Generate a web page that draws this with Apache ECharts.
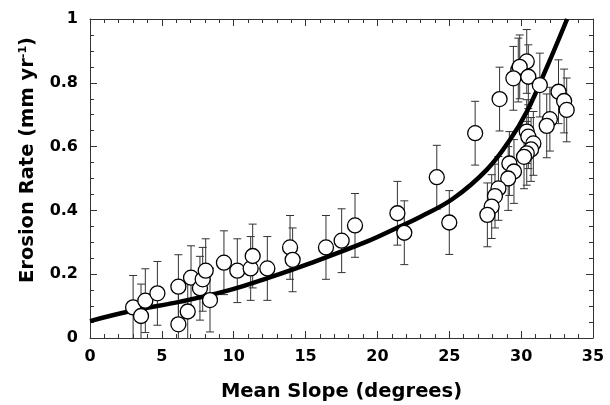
<!DOCTYPE html>
<html>
<head>
<meta charset="utf-8">
<script src="https://cdn.jsdelivr.net/npm/echarts@6/dist/echarts.min.js"></script>
<style>html,body{margin:0;padding:0;background:#fff}#c{width:610px;height:405px}</style>
</head>
<body>
<div id="c"></div>
<script>
// Mean slope (degrees) of each catchment
var slopes = [3.0, 3.55, 3.85, 4.69, 6.15, 6.15, 6.8, 7.03, 7.65, 7.84, 8.05, 8.35, 9.32, 10.25, 11.18, 11.32, 12.34,
  13.92, 14.1, 16.42, 17.51, 18.44, 21.39, 21.87, 24.13, 25.0, 26.8, 28.5, 30.39, 29.8, 29.9, 29.46, 30.5, 31.3,
  32.6, 32.99, 33.17, 32.0, 31.78, 30.39, 30.5, 30.85, 30.69, 30.39, 30.2, 29.18, 29.5, 29.1, 28.42, 28.18, 27.95, 27.65];
// Erosion rate (mm/yr)
var rates = [0.096, 0.069, 0.117, 0.14, 0.161, 0.043, 0.083, 0.189, 0.156, 0.184, 0.211, 0.119, 0.236, 0.211, 0.218, 0.257, 0.218,
  0.284, 0.245, 0.284, 0.305, 0.353, 0.391, 0.33, 0.504, 0.362, 0.642, 0.749, 0.867, 0.84, 0.85, 0.814, 0.819, 0.793,
  0.772, 0.743, 0.715, 0.686, 0.665, 0.647, 0.631, 0.61, 0.591, 0.579, 0.568, 0.547, 0.522, 0.5, 0.469, 0.445, 0.412, 0.386];
// Error (half-width of bar, mm/yr)
var errors = [0.1, 0.1, 0.1, 0.1, 0.1, 0.1, 0.1, 0.1, 0.1, 0.1, 0.1, 0.1, 0.1, 0.1, 0.1, 0.1, 0.1,
  0.1, 0.1, 0.1, 0.1, 0.1, 0.1, 0.1, 0.1, 0.1, 0.1, 0.1, 0.1, 0.1, 0.1, 0.1, 0.1, 0.1,
  0.1, 0.1, 0.1, 0.1, 0.1, 0.1, 0.1, 0.1, 0.1, 0.1, 0.1, 0.1, 0.1, 0.1, 0.1, 0.1, 0.1, 0.1];
// Fitted curve samples
var curveX = [0, 3, 6.3, 9.7, 12.5, 15.3, 19.25, 21.3, 23, 25.3, 27.6, 29.2, 30.4, 31.8, 33.2];
var curveY = [0.053, 0.086, 0.114, 0.15, 0.19, 0.234, 0.302, 0.344, 0.38, 0.438, 0.527, 0.62, 0.71, 0.85, 1.0];
var xTicks = [0, 5, 10, 15, 20, 25, 30, 35];
var yTicks = [0, 0.2, 0.4, 0.6, 0.8, 1];

var pts = slopes.map(function (s, i) { return [s, rates[i]]; });
var bars = slopes.map(function (s, i) { return [s, rates[i] - errors[i], rates[i] + errors[i]]; });
var curve = curveX.map(function (x, i) { return [x, curveY[i]]; });

var font = '"DejaVu Sans", Verdana, sans-serif';
var axisCol = '#333';
var xMin = xTicks[0], xMax = xTicks[xTicks.length - 1];
var yMin = yTicks[0], yMax = yTicks[yTicks.length - 1];

function axis(type, pos, min, max, interval, tickLen, showLine, label, extra) {
  var a = {
    type: 'value', position: pos, min: min, max: max, interval: interval, offset: 0,
    axisLine: { show: showLine, onZero: false, lineStyle: { color: axisCol, width: 1 } },
    axisTick: { show: true, inside: true, length: tickLen, lineStyle: { color: axisCol } },
    minorTick: { show: false },
    splitLine: { show: false },
    axisLabel: label || { show: false }
  };
  if (extra) for (var k in extra) a[k] = extra[k];
  return a;
}
var labelStyle = { show: true, color: '#000', fontFamily: font, fontWeight: 'bold', fontSize: 16 };

var chart = echarts.init(document.getElementById('c'));
chart.setOption({
  animation: false,
  backgroundColor: '#fff',
  grid: { left: 90, right: 17, top: 19, bottom: 67, containLabel: false, outerBoundsMode: 'none' },
  xAxis: [
    axis('x', 'bottom', xMin, xMax, 5, 7, true, Object.assign({}, labelStyle, { margin: 11 }), {
      name: 'Mean Slope (degrees)', nameLocation: 'middle', nameGap: 44,
      nameTextStyle: { color: '#000', fontFamily: font, fontWeight: 'bold', fontSize: 19.5 } }),
    axis('x', 'top', xMin, xMax, 5, 7, true, null),
    axis('x', 'bottom', xMin, xMax, 1, 4, false, null),
    axis('x', 'top', xMin, xMax, 1, 4, false, null)
  ],
  yAxis: [
    axis('y', 'left', yMin, yMax, 0.2, 7, true, Object.assign({}, labelStyle, { margin: 12,
      formatter: function (v) { return v === 0 || v === 1 ? String(v) : v.toFixed(1); } })),
    axis('y', 'right', yMin, yMax, 0.2, 7, true, null),
    axis('y', 'left', yMin, yMax, 0.05, 4, false, null),
    axis('y', 'right', yMin, yMax, 0.05, 4, false, null)
  ],
  graphic: [{
    type: 'text', rotation: Math.PI / 2,
    x: 28, y: 160,
    style: {
      text: '{n|Erosion Rate (mm yr}{s|-1}{n|)}',
      rich: {
        n: { fontFamily: font, fontWeight: 'bold', fontSize: 19.5, fill: '#000' },
        s: { fontFamily: font, fontWeight: 'bold', fontSize: 11, fill: '#000', verticalAlign: 'top', padding: [0, 0, 10, 0] }
      },
      align: 'center', verticalAlign: 'middle'
    }
  }],
  series: [
    {
      type: 'custom', xAxisIndex: 0, yAxisIndex: 0, z: 2, clip: true,
      data: bars,
      renderItem: function (params, api) {
        var x = api.value(0), lo = api.value(1), hi = api.value(2);
        var p1 = api.coord([x, lo]), p2 = api.coord([x, hi]);
        var w = 4;
        var st = { stroke: '#333', lineWidth: 1 };
        return { type: 'group', children: [
          { type: 'line', shape: { x1: p1[0], y1: p1[1], x2: p2[0], y2: p2[1] }, style: st },
          { type: 'line', shape: { x1: p1[0] - w, y1: p1[1], x2: p1[0] + w, y2: p1[1] }, style: st },
          { type: 'line', shape: { x1: p2[0] - w, y1: p2[1], x2: p2[0] + w, y2: p2[1] }, style: st }
        ] };
      }
    },
    {
      type: 'line', xAxisIndex: 0, yAxisIndex: 0, data: curve, smooth: 0.4, showSymbol: false, z: 3, clip: true,
      lineStyle: { color: '#000', width: 4.5 }
    },
    {
      type: 'scatter', xAxisIndex: 0, yAxisIndex: 0, data: pts, symbol: 'circle', symbolSize: 15, z: 4,
      itemStyle: { color: '#fff', borderColor: '#000', borderWidth: 1.3, opacity: 1 }
    }
  ]
});
</script>
</body>
</html>
